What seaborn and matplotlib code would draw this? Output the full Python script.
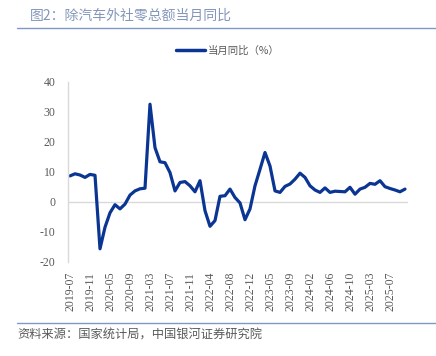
import numpy as np
import pandas as pd
import matplotlib
matplotlib.use("Agg")
import matplotlib.pyplot as plt
import seaborn as sns
from matplotlib.lines import Line2D

months = (["2019-%02d" % m for m in range(7, 13)]
          + ["2020-%02d" % m for m in range(3, 13)]
          + ["2021-%02d" % m for m in range(3, 13)]
          + ["2022-%02d" % m for m in range(2, 13)]
          + ["2023-%02d" % m for m in range(2, 13)]
          + ["2024-%02d" % m for m in range(2, 13)]
          + ["2025-%02d" % m for m in range(2, 11)])

values = [8.7, 9.4, 9.0, 8.2, 9.2, 8.9,
          -15.6, -8.4, -3.6, -0.9, -2.3, -0.7, 2.3, 3.7, 4.4, 4.6,
          32.6, 18.1, 13.4, 13.1, 9.8, 3.7, 6.5, 6.8, 5.4, 3.4,
          7.1, -2.9, -8.1, -6.2, 1.9, 2.1, 4.3, 1.5, -0.3, -5.9, -2.3,
          5.4, 10.9, 16.5, 12.0, 3.7, 3.2, 5.2, 6.0, 7.6, 9.6, 8.2,
          5.4, 4.0, 3.2, 4.7, 3.2, 3.6, 3.5, 3.4, 4.9, 2.6, 4.3,
          4.9, 6.2, 5.9, 7.1, 5.1, 4.5, 4.0, 3.4, 4.3]

tick_labels = ["2019-07", "2019-11", "2020-05", "2020-09", "2021-03", "2021-07",
               "2021-11", "2022-04", "2022-08", "2022-12", "2023-05", "2023-09",
               "2024-02", "2024-06", "2024-10", "2025-03", "2025-07"]

series_name = "当月同比（%）"
title = "图2：除汽车外社零总额当月同比"
source = "资料来源：国家统计局，中国银河证券研究院"

sns.set_theme(style="white")
plt.rcParams['font.family'] = ['Noto Sans CJK SC', 'DejaVu Sans']
plt.rcParams['axes.unicode_minus'] = False

df = pd.DataFrame({"idx": np.arange(len(values)), "month": months, "value": values})

fig = plt.figure(figsize=(4.36, 3.56), dpi=100)
ax = fig.add_axes([68 / 436, 94 / 356, 340 / 436, 180 / 356])

line_color = "#0b3593"
sns.lineplot(data=df, x="idx", y="value", ax=ax, color=line_color, linewidth=2.3, legend=False)

ax.set_xlim(-0.4, 67.6)
ax.set_ylim(-20, 40)
ax.set_yticks([-20, -10, 0, 10, 20, 30, 40])
ax.axhline(0, color="#d9d9d9", linewidth=1.0, zorder=0)
tick_pos = [months.index(t) for t in tick_labels]
ax.set_xticks(tick_pos)
ax.set_xticklabels(tick_labels, rotation=90, fontsize=8.5, color="#595959",
                   family="Liberation Serif")
for lab in ax.get_yticklabels():
    lab.set_family("Liberation Serif")
ax.tick_params(axis="y", labelsize=8.5, labelcolor="#595959", length=0, pad=9)
for lab in ax.get_yticklabels():
    lab.set_family("Liberation Serif")
ax.tick_params(axis="x", length=0, pad=7)
ax.set_xlabel("")
ax.set_ylabel("")
for s in ["top", "right", "bottom"]:
    ax.spines[s].set_visible(False)
ax.spines["left"].set_color("#d9d9d9")
ax.spines["left"].set_linewidth(1.0)

# Title and rules
fig.text(30 / 436, 1 - 16 / 356, title, fontsize=10, color="#8497bb", va="center", ha="left")
fig.add_artist(Line2D([17 / 436, 1.0], [1 - 28 / 356] * 2, color="#7f98c6", linewidth=1.0))
fig.add_artist(Line2D([17 / 436, 1.0], [1 - 323 / 356] * 2, color="#7f98c6", linewidth=1.0))

# Legend
handle = Line2D([], [], color=line_color, linewidth=2.5)
fig.legend([handle], [series_name], loc="center", bbox_to_anchor=(228 / 436, 1 - 51 / 356),
           frameon=False, fontsize=7.5, handlelength=2.8, handletextpad=0.3,
           labelcolor="#595959")

fig.text(17 / 436, 1 - 335 / 356, source, fontsize=8.8, color="#595959", style="italic",
         va="center", ha="left")

fig.savefig("out.png", dpi=100)
